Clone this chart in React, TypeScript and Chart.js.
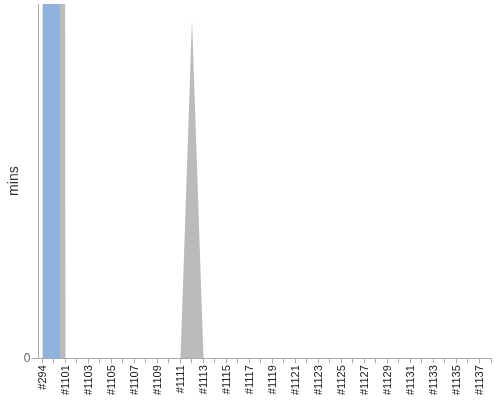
import { Chart, registerables } from "chart.js";
import { useEffect, useRef } from "react";

Chart.register(...registerables);

// builds, oldest first
const builds = [
  "#294", "#1100", "#1101", "#1102", "#1103", "#1104", "#1105", "#1106",
  "#1107", "#1108", "#1109", "#1110", "#1111", "#1112", "#1113", "#1114",
  "#1115", "#1116", "#1117", "#1118", "#1119", "#1120", "#1121", "#1122",
  "#1123", "#1124", "#1125", "#1126", "#1127", "#1128", "#1129", "#1130",
  "#1131", "#1132", "#1133", "#1134", "#1135", "#1136", "#1137", "#1138",
];

// total duration (mins) – first two go way off the top of the scale
const totalMins = [
  3000, 3000, 0, 0, 0, 0, 0, 0, 0, 0, 0, 0, 0, 96, 0, 0, 0, 0, 0, 0,
  0, 0, 0, 0, 0, 0, 0, 0, 0, 0, 0, 0, 0, 0, 0, 0, 0, 0, 0, 0,
];

// highlighted build duration (mins)
const blueMins = [3000, 3000, 0];

const yTicks = [0];
const yMax = 100;

export default function App() {
  const canvasRef = useRef<HTMLCanvasElement | null>(null);

  useEffect(() => {
    const ctx = canvasRef.current!.getContext("2d")!;
    const chart = new Chart(ctx, {
      type: "line",
      data: {
        datasets: [
          {
            data: blueMins.map((v, i) => ({ x: i, y: v })),
            backgroundColor: "#8fb3dd",
            borderWidth: 0,
            pointRadius: 0,
            fill: "origin",
            stepped: "middle",
          },
          {
            data: totalMins.map((v, i) => ({ x: i, y: v })),
            backgroundColor: "#bbbbbb",
            borderWidth: 0,
            pointRadius: 0,
            fill: "origin",
            tension: 0,
          },
        ],
      },
      options: {
        animation: false,
        responsive: true,
        maintainAspectRatio: false,
        layout: { padding: { top: 4, right: 9, left: -1.5, bottom: 3 } },
        plugins: {
          legend: { display: false },
          tooltip: { enabled: false },
        },
        scales: {
          x: {
            type: "linear",
            min: -0.35,
            max: builds.length - 1,
            afterBuildTicks: (axis) => {
              axis.ticks = builds.map((_, i) => ({ value: i }));
            },
            afterFit: (axis) => {
              axis.paddingLeft = 0;
              axis.paddingRight = 0;
            },
            grid: {
              drawOnChartArea: false,
              tickLength: 5,
              color: "#aaaaaa",
            },
            border: { color: "#aaaaaa" },
            ticks: {
              autoSkip: false,
              minRotation: 90,
              maxRotation: 90,
              padding: 2,
              color: "#222222",
              font: { family: "Liberation Sans", size: 11 },
              callback: (value) => {
                const i = Number(value);
                return i % 2 === 0 ? builds[i] : "";
              },
            },
          },
          y: {
            min: 0,
            max: yMax,
            afterBuildTicks: (axis) => {
              axis.ticks = yTicks.map((v) => ({ value: v }));
            },
            afterFit: (axis) => {
              axis.paddingTop = 0;
            },
            grid: {
              drawOnChartArea: false,
              tickLength: 7,
              color: "#aaaaaa",
            },
            border: { color: "#aaaaaa" },
            ticks: {
              color: "#666666",
              padding: 1,
              font: { family: "Liberation Sans", size: 12 },
            },
            title: {
              display: true,
              text: "mins",
              color: "#333333",
              padding: { top: 7.5, bottom: 0 },
              font: { family: "Liberation Sans", size: 14 },
            },
          },
        },
      },
    });
    return () => chart.destroy();
  }, []);

  return (
    <div style={{ position: "fixed", left: 0, top: 0, width: 500, height: 400 }}>
      <canvas ref={canvasRef}></canvas>
    </div>
  );
}
